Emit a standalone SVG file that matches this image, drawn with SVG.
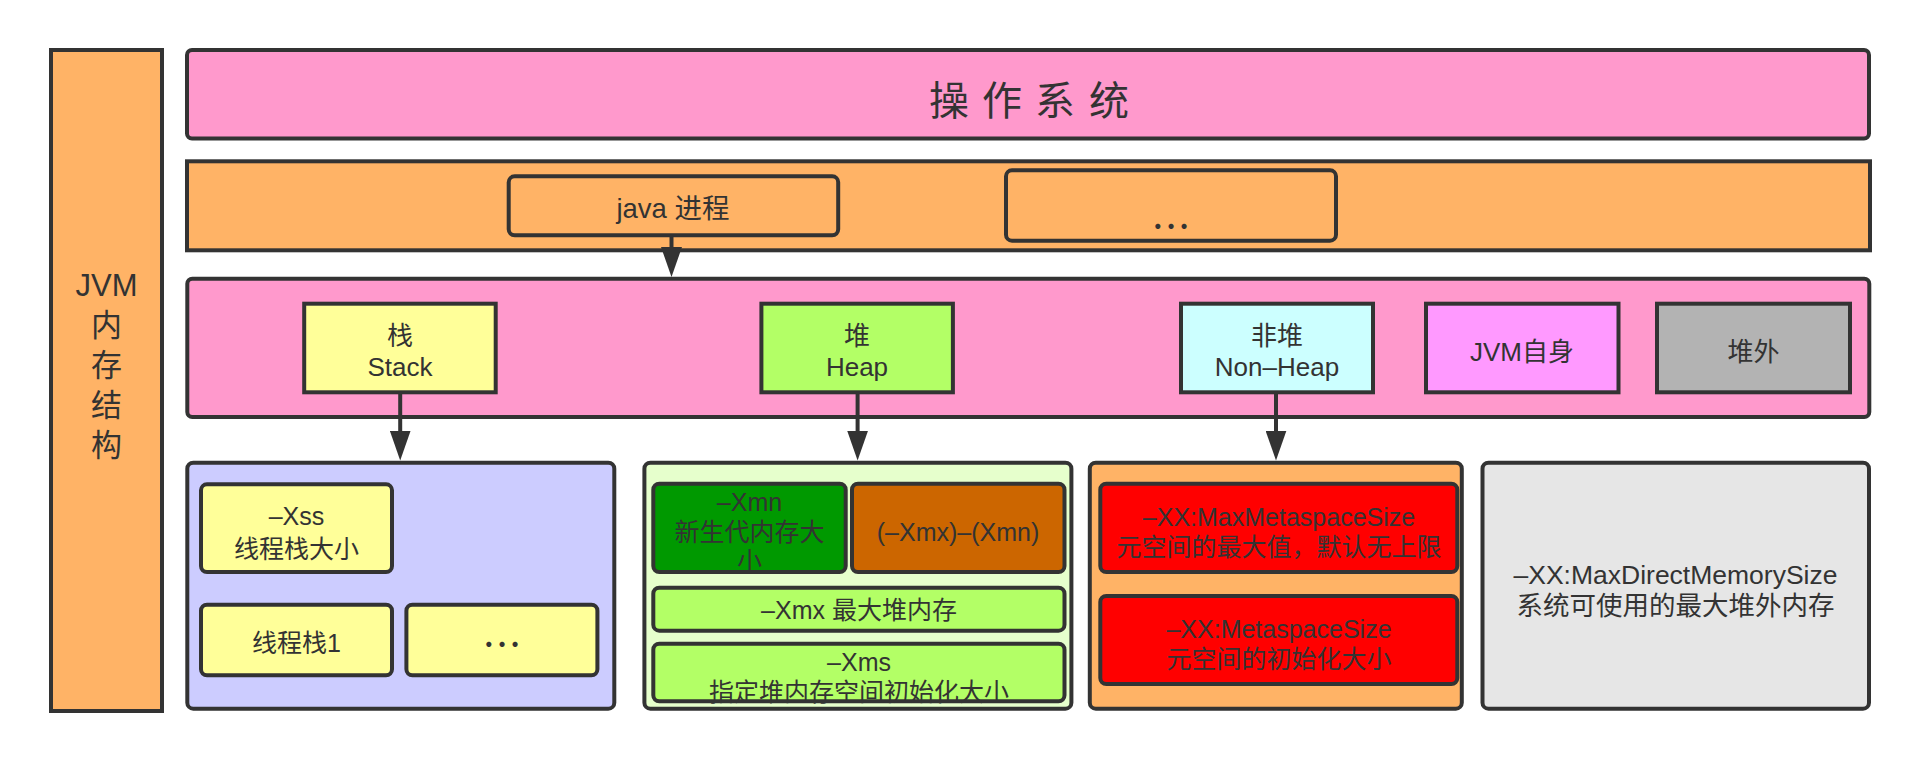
<svg xmlns="http://www.w3.org/2000/svg" width="1921" height="762" viewBox="0 0 1921 762">
  <style>
    .box { stroke: #333333; stroke-width: 4; }
    .t { font-family: "Liberation Sans", "Noto Sans CJK SC", sans-serif; font-size: 26px; fill: #333333; text-anchor: middle; }
    .s { font-size: 25px; }
    .dots { font-family: "Noto Sans CJK SC", sans-serif; font-weight: bold; font-size: 28px; letter-spacing: 4px; fill: #333333; text-anchor: middle; }
    .wire { stroke: #333333; stroke-width: 4; fill: none; }
  </style>
  <defs>
    <marker id="arrow" viewBox="0 0 30 21" refX="15" refY="10.5" markerWidth="30" markerHeight="21" markerUnits="userSpaceOnUse" orient="auto">
      <path d="M0,0 L30,10.5 L0,21 Z" fill="#333333"/>
    </marker>
  </defs>
  <rect width="1921" height="762" fill="#ffffff"/>

  <!-- left label bar -->
  <g id="jvm-label">
    <rect class="box" x="51" y="50" width="111" height="661" fill="#FFB366"/>
    <text class="t" style="font-size:31px" x="106.5" y="296">JVM</text>
    <text class="t" style="font-size:31px" x="106.5" y="336">内</text>
    <text class="t" style="font-size:31px" x="106.5" y="376">存</text>
    <text class="t" style="font-size:31px" x="106.5" y="416">结</text>
    <text class="t" style="font-size:31px" x="106.5" y="456">构</text>
  </g>

  <!-- operating system -->
  <g id="os">
    <rect class="box" x="187" y="50" width="1682" height="88.5" rx="5" fill="#FF99CC"/>
    <text class="t" style="font-size:40px;text-anchor:start" x="929 969 982 1022 1035 1075 1089" y="114.5">操 作 系 统</text>
  </g>

  <!-- process band -->
  <g id="process-band">
    <rect class="box" x="187" y="161.3" width="1683" height="89" fill="#FFB366"/>
  </g>
  <g id="java-process">
    <rect class="box" x="508.7" y="176.3" width="329.5" height="59" rx="6" fill="#FFB366"/>
    <text class="t" style="font-size:27.5px" x="673" y="218">java 进程</text>
  </g>
  <g id="other-process">
    <rect class="box" x="1006" y="170.3" width="330" height="70.4" rx="6" fill="#FFB366"/>
    <text class="dots" x="1173" y="229">...</text>
  </g>

  <!-- JVM memory band -->
  <g id="jvm-memory">
    <rect class="box" x="187.3" y="278.7" width="1682" height="138.3" rx="5" fill="#FF99CC"/>
  </g>
  <g id="stack">
    <rect class="box" x="304.2" y="303.7" width="191.5" height="88.6" fill="#FFFF99"/>
    <text class="t" x="400" y="345">栈</text>
    <text class="t" x="400" y="376">Stack</text>
  </g>
  <g id="heap">
    <rect class="box" x="761.4" y="303.7" width="191.5" height="88.6" fill="#B3FF66"/>
    <text class="t" x="857" y="345">堆</text>
    <text class="t" x="857" y="376">Heap</text>
  </g>
  <g id="non-heap">
    <rect class="box" x="1181" y="303.7" width="192" height="88.6" fill="#CCFFFF"/>
    <text class="t" x="1277" y="345">非堆</text>
    <text class="t" x="1277" y="376">Non–Heap</text>
  </g>
  <g id="jvm-self">
    <rect class="box" x="1426" y="303.7" width="192.5" height="88.6" fill="#FF99FF"/>
    <text class="t" x="1522" y="361">JVM自身</text>
  </g>
  <g id="off-heap">
    <rect class="box" x="1657" y="303.7" width="193" height="88.6" fill="#B3B3B3"/>
    <text class="t" x="1753.5" y="361">堆外</text>
  </g>

  <!-- stack details -->
  <g id="stack-detail">
    <rect class="box" x="187.3" y="462.7" width="427" height="246" rx="6" fill="#CCCCFF"/>
  </g>
  <g id="xss">
    <rect class="box" x="201" y="484.3" width="191" height="87.7" rx="6" fill="#FFFF99"/>
    <text class="t s" x="296.5" y="525">–Xss</text>
    <text class="t s" x="296.5" y="557.5">线程栈大小</text>
  </g>
  <g id="thread-stack-1">
    <rect class="box" x="201" y="604.7" width="191" height="70.6" rx="6" fill="#FFFF99"/>
    <text class="t s" x="296.5" y="652">线程栈1</text>
  </g>
  <g id="thread-stack-more">
    <rect class="box" x="406.4" y="604.7" width="191" height="70.6" rx="6" fill="#FFFF99"/>
    <text class="dots" x="504" y="647">...</text>
  </g>

  <!-- heap details -->
  <g id="heap-detail">
    <rect class="box" x="644.4" y="462.7" width="427" height="246" rx="6" fill="#E6FFCC"/>
  </g>
  <g id="xmn">
    <rect class="box" x="653.3" y="483.7" width="192.4" height="88.3" rx="6" fill="#009900"/>
    <text class="t s" x="749.5" y="511">–Xmn</text>
    <text class="t s" x="749.5" y="541">新生代内存大</text>
    <text class="t s" x="749.5" y="570">小</text>
  </g>
  <g id="old-gen">
    <rect class="box" x="852" y="483.7" width="212.5" height="88.3" rx="6" fill="#CC6600"/>
    <text class="t s" x="958" y="541">(–Xmx)–(Xmn)</text>
  </g>
  <g id="xmx">
    <rect class="box" x="653.3" y="587.7" width="411.2" height="43" rx="6" fill="#B3FF66"/>
    <text class="t s" x="859" y="619">–Xmx 最大堆内存</text>
  </g>
  <g id="xms">
    <rect class="box" x="653.3" y="643.7" width="411.2" height="57.6" rx="6" fill="#B3FF66"/>
    <text class="t s" x="859" y="671">–Xms</text>
    <text class="t s" x="859" y="701">指定堆内存空间初始化大小</text>
  </g>

  <!-- non-heap details -->
  <g id="non-heap-detail">
    <rect class="box" x="1089.8" y="462.7" width="372" height="246" rx="6" fill="#FFB366"/>
  </g>
  <g id="max-metaspace">
    <rect class="box" x="1100.3" y="483.7" width="357" height="88.3" rx="6" fill="#FF0000"/>
    <text class="t s" x="1279" y="526">–XX:MaxMetaspaceSize</text>
    <text class="t s" x="1279" y="555.5">元空间的最大值，默认无上限</text>
  </g>
  <g id="metaspace">
    <rect class="box" x="1100.3" y="596" width="357" height="88" rx="6" fill="#FF0000"/>
    <text class="t s" x="1279" y="637.5">–XX:MetaspaceSize</text>
    <text class="t s" x="1279" y="668">元空间的初始化大小</text>
  </g>

  <!-- off-heap details -->
  <g id="off-heap-detail">
    <rect class="box" x="1482.5" y="462.7" width="386.5" height="246" rx="6" fill="#E6E6E6"/>
    <text class="t" style="font-size:26.5px" x="1675.5" y="584">–XX:MaxDirectMemorySize</text>
    <text class="t" style="font-size:26.5px" x="1675.5" y="614.5">系统可使用的最大堆外内存</text>
  </g>

  <!-- connectors -->
  <g id="connectors">
    <line class="wire" x1="671.5" y1="237" x2="671.5" y2="262" marker-end="url(#arrow)"/>
    <line class="wire" x1="400.2" y1="394" x2="400.2" y2="445.5" marker-end="url(#arrow)"/>
    <line class="wire" x1="857.6" y1="394" x2="857.6" y2="445.5" marker-end="url(#arrow)"/>
    <line class="wire" x1="1276" y1="394" x2="1276" y2="445.5" marker-end="url(#arrow)"/>
  </g>
</svg>
